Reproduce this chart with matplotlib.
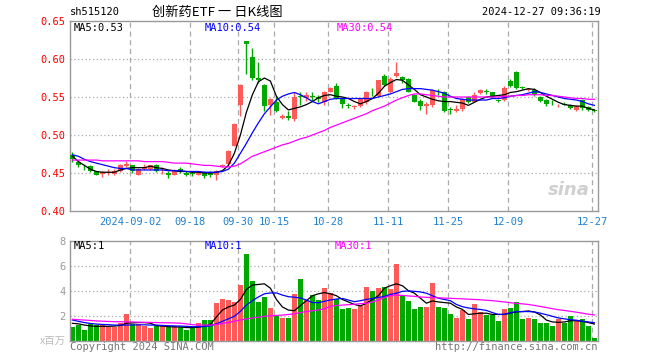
import matplotlib
matplotlib.use("Agg")
import matplotlib.pyplot as plt

# ---- data (515120, daily, 2024-08-19 .. 2024-12-27) ----
opens = [0.474, 0.465, 0.457, 0.459, 0.452, 0.449, 0.450, 0.449, 0.452, 0.459,
         0.460, 0.448, 0.455, 0.455, 0.461, 0.452, 0.450, 0.448, 0.455, 0.450,
         0.450, 0.448, 0.451, 0.450, 0.447, 0.459, 0.462, 0.486, 0.540, 0.624,
         0.603, 0.575, 0.566, 0.540, 0.544, 0.523, 0.525, 0.521, 0.551, 0.549,
         0.551, 0.550, 0.543, 0.557, 0.565, 0.548, 0.539, 0.537, 0.538, 0.543,
         0.557, 0.551, 0.578, 0.557, 0.577, 0.576, 0.574, 0.553, 0.545, 0.538,
         0.539, 0.557, 0.557, 0.534, 0.532, 0.534, 0.550, 0.544, 0.555, 0.558,
         0.556, 0.546, 0.546, 0.571, 0.583, 0.563, 0.559, 0.559, 0.550, 0.546,
         0.544, 0.539, 0.541, 0.540, 0.533, 0.546, 0.537, 0.533]
closes = [0.469, 0.460, 0.456, 0.452, 0.448, 0.451, 0.451, 0.452, 0.461, 0.462,
          0.452, 0.455, 0.458, 0.460, 0.452, 0.453, 0.448, 0.452, 0.451, 0.448,
          0.449, 0.450, 0.446, 0.447, 0.453, 0.460, 0.479, 0.514, 0.566, 0.620,
          0.575, 0.572, 0.538, 0.548, 0.532, 0.525, 0.523, 0.550, 0.550, 0.552,
          0.550, 0.547, 0.557, 0.562, 0.548, 0.541, 0.538, 0.538, 0.548, 0.557,
          0.556, 0.572, 0.566, 0.574, 0.582, 0.572, 0.557, 0.544, 0.538, 0.541,
          0.559, 0.556, 0.532, 0.533, 0.534, 0.548, 0.543, 0.553, 0.559, 0.557,
          0.550, 0.545, 0.562, 0.565, 0.562, 0.562, 0.561, 0.553, 0.545, 0.541,
          0.543, 0.540, 0.540, 0.535, 0.538, 0.536, 0.533, 0.532]
highs = [0.477, 0.467, 0.460, 0.461, 0.453, 0.452, 0.455, 0.455, 0.462, 0.466,
         0.461, 0.457, 0.462, 0.461, 0.462, 0.458, 0.452, 0.455, 0.458, 0.452,
         0.453, 0.453, 0.452, 0.452, 0.454, 0.462, 0.480, 0.516, 0.567, 0.624,
         0.614, 0.596, 0.567, 0.549, 0.551, 0.527, 0.531, 0.557, 0.556, 0.557,
         0.557, 0.552, 0.558, 0.563, 0.568, 0.549, 0.542, 0.540, 0.549, 0.558,
         0.562, 0.573, 0.580, 0.576, 0.596, 0.578, 0.575, 0.554, 0.548, 0.543,
         0.560, 0.560, 0.558, 0.537, 0.539, 0.549, 0.551, 0.557, 0.560, 0.560,
         0.557, 0.548, 0.564, 0.574, 0.584, 0.565, 0.562, 0.562, 0.551, 0.547,
         0.546, 0.541, 0.543, 0.541, 0.539, 0.547, 0.538, 0.534]
lows = [0.465, 0.458, 0.454, 0.451, 0.447, 0.445, 0.447, 0.448, 0.451, 0.458,
        0.450, 0.447, 0.454, 0.454, 0.451, 0.449, 0.443, 0.447, 0.450, 0.446,
        0.446, 0.447, 0.444, 0.445, 0.441, 0.458, 0.461, 0.485, 0.525, 0.580,
        0.573, 0.569, 0.531, 0.526, 0.530, 0.521, 0.520, 0.519, 0.540, 0.545,
        0.545, 0.544, 0.539, 0.556, 0.547, 0.536, 0.535, 0.534, 0.537, 0.541,
        0.551, 0.550, 0.565, 0.555, 0.576, 0.568, 0.556, 0.543, 0.533, 0.528,
        0.537, 0.552, 0.530, 0.527, 0.530, 0.532, 0.542, 0.543, 0.554, 0.554,
        0.549, 0.543, 0.545, 0.563, 0.561, 0.560, 0.558, 0.551, 0.543, 0.538,
        0.540, 0.537, 0.539, 0.534, 0.532, 0.533, 0.531, 0.530]

ma5 = [0.472, 0.465, 0.460, 0.455, 0.452, 0.451, 0.451, 0.451, 0.454, 0.456,
       0.457, 0.457, 0.457, 0.459, 0.457, 0.456, 0.454, 0.453, 0.452, 0.452,
       0.451, 0.451, 0.450, 0.450, 0.451, 0.453, 0.460, 0.476, 0.500, 0.530,
       0.553, 0.570, 0.575, 0.571, 0.551, 0.540, 0.533, 0.535, 0.537, 0.540,
       0.544, 0.549, 0.552, 0.553, 0.551, 0.550, 0.548, 0.544, 0.541, 0.544,
       0.548, 0.555, 0.564, 0.569, 0.573, 0.572, 0.566, 0.560, 0.553, 0.550,
       0.547, 0.545, 0.544, 0.544, 0.543, 0.542, 0.539, 0.543, 0.547, 0.550,
       0.551, 0.552, 0.553, 0.556, 0.557, 0.559, 0.561, 0.560, 0.556, 0.551,
       0.547, 0.543, 0.540, 0.539, 0.538, 0.538, 0.535, 0.533]
ma10 = [0.474, 0.472, 0.468, 0.465, 0.463, 0.461, 0.459, 0.457, 0.456, 0.456,
        0.454, 0.454, 0.454, 0.454, 0.454, 0.454, 0.453, 0.453, 0.453, 0.452,
        0.452, 0.452, 0.451, 0.451, 0.451, 0.452, 0.455, 0.463, 0.476, 0.489,
        0.503, 0.516, 0.528, 0.537, 0.546, 0.551, 0.554, 0.556, 0.553, 0.549,
        0.544, 0.541, 0.544, 0.547, 0.548, 0.548, 0.548, 0.548, 0.548, 0.548,
        0.548, 0.550, 0.552, 0.554, 0.557, 0.560, 0.561, 0.561, 0.561, 0.560,
        0.559, 0.557, 0.555, 0.551, 0.548, 0.547, 0.546, 0.546, 0.546, 0.546,
        0.548, 0.548, 0.549, 0.551, 0.552, 0.553, 0.555, 0.557, 0.556, 0.554,
        0.552, 0.550, 0.548, 0.547, 0.546, 0.544, 0.541, 0.539]
ma30 = [0.467, 0.467, 0.467, 0.467, 0.467, 0.466, 0.466, 0.466, 0.466, 0.466,
        0.466, 0.466, 0.465, 0.465, 0.465, 0.465, 0.464, 0.463, 0.463, 0.463,
        0.462, 0.461, 0.460, 0.460, 0.459, 0.458, 0.458, 0.459, 0.462, 0.467,
        0.472, 0.475, 0.478, 0.481, 0.484, 0.487, 0.489, 0.492, 0.495, 0.497,
        0.500, 0.503, 0.506, 0.510, 0.513, 0.516, 0.519, 0.522, 0.525, 0.528,
        0.532, 0.535, 0.538, 0.542, 0.546, 0.549, 0.552, 0.554, 0.554, 0.553,
        0.552, 0.551, 0.550, 0.550, 0.550, 0.550, 0.550, 0.550, 0.550, 0.550,
        0.550, 0.550, 0.551, 0.551, 0.552, 0.552, 0.553, 0.553, 0.553, 0.552,
        0.552, 0.551, 0.550, 0.549, 0.548, 0.548, 0.547, 0.547]

# volume, millions of shares
vols = [1.12, 1.25, 0.86, 1.30, 1.25, 1.25, 1.12, 1.12, 1.44, 2.13,
        1.30, 1.30, 1.17, 0.99, 1.17, 1.17, 1.17, 1.17, 1.12, 0.86,
        1.12, 1.39, 1.66, 1.66, 3.04, 3.34, 3.26, 3.10, 4.46, 6.93,
        4.78, 3.12, 3.47, 2.64, 2.06, 1.84, 1.84, 3.74, 4.94, 3.26,
        3.66, 3.26, 4.24, 3.79, 3.32, 2.54, 2.59, 2.51, 2.78, 4.32,
        3.98, 4.19, 4.32, 4.14, 6.14, 3.58, 3.18, 2.54, 2.70, 2.70,
        4.64, 2.70, 2.62, 2.14, 1.84, 2.46, 1.74, 2.94, 2.33, 2.06,
        2.06, 1.58, 2.54, 2.64, 3.12, 1.74, 1.79, 1.74, 1.44, 1.44,
        1.17, 1.74, 1.44, 2.00, 1.58, 1.74, 1.17, 0.23]
vma5 = [1.39, 1.35, 1.25, 1.18, 1.15, 1.15, 1.15, 1.17, 1.22, 1.40,
        1.42, 1.45, 1.45, 1.40, 1.20, 1.17, 1.12, 1.10, 1.10, 1.05,
        1.05, 1.08, 1.15, 1.30, 1.90, 2.45, 2.70, 2.85, 3.30, 4.10,
        4.45, 4.50, 4.55, 4.20, 3.30, 2.70, 2.45, 2.40, 2.80, 3.20,
        3.60, 3.75, 3.85, 3.75, 3.60, 3.30, 3.10, 2.90, 2.78, 3.00,
        3.30, 3.60, 4.20, 4.40, 4.55, 4.40, 4.00, 3.80, 3.40, 3.00,
        3.18, 3.10, 3.05, 3.00, 2.70, 2.50, 2.10, 2.15, 2.20, 2.20,
        2.10, 2.10, 2.10, 2.20, 2.30, 2.33, 2.38, 2.30, 2.06, 1.65,
        1.50, 1.47, 1.50, 1.60, 1.60, 1.55, 1.45, 1.33]
vma10 = [1.66, 1.55, 1.45, 1.38, 1.33, 1.30, 1.28, 1.25, 1.25, 1.25,
         1.25, 1.27, 1.27, 1.25, 1.25, 1.22, 1.20, 1.18, 1.17, 1.15,
         1.12, 1.12, 1.15, 1.18, 1.35, 1.55, 1.75, 1.95, 2.35, 2.85,
         3.20, 3.50, 3.75, 3.82, 3.82, 3.65, 3.52, 3.48, 3.42, 3.25,
         3.05, 3.04, 3.15, 3.26, 3.33, 3.38, 3.25, 3.12, 3.20, 3.30,
         3.38, 3.45, 3.55, 3.70, 3.80, 3.95, 3.98, 3.95, 3.90, 3.80,
         3.60, 3.40, 3.30, 3.20, 2.90, 2.72, 2.62, 2.55, 2.50, 2.42,
         2.25, 2.10, 2.12, 2.25, 2.33, 2.33, 2.33, 2.30, 2.20, 2.08,
         1.95, 1.82, 1.75, 1.68, 1.64, 1.55, 1.50, 1.44]
vma30 = [1.71, 1.68, 1.65, 1.62, 1.58, 1.56, 1.54, 1.52, 1.52, 1.50,
         1.50, 1.48, 1.47, 1.46, 1.45, 1.44, 1.43, 1.42, 1.40, 1.35,
         1.28, 1.25, 1.25, 1.25, 1.30, 1.38, 1.46, 1.56, 1.66, 1.74,
         1.82, 1.88, 1.95, 2.00, 2.02, 2.05, 2.10, 2.15, 2.25, 2.33,
         2.40, 2.46, 2.55, 2.75, 2.82, 2.85, 2.88, 2.92, 2.96, 3.00,
         3.10, 3.25, 3.45, 3.60, 3.66, 3.62, 3.58, 3.55, 3.50, 3.47,
         3.45, 3.43, 3.41, 3.39, 3.37, 3.35, 3.32, 3.30, 3.27, 3.24,
         3.20, 3.15, 3.10, 3.04, 2.98, 2.95, 2.90, 2.82, 2.74, 2.65,
         2.56, 2.48, 2.42, 2.35, 2.28, 2.20, 2.12, 2.06]

tick_idx = [10, 20, 28, 34, 43, 53, 63, 73, 87]
tick_labels = ["2024-09-02", "09-18", "09-30", "10-15", "10-28",
               "11-11", "11-25", "12-09", "12-27"]
price_ticks = [0.40, 0.45, 0.50, 0.55, 0.60, 0.65]
vol_ticks = [2, 4, 6, 8]

RED = "#ff5a5a"
GREEN = "#00a800"
GRID = "#aaaaaa"
FRAME = "#999999"
MONO = "DejaVu Sans Mono"
CJK = ["Noto Sans CJK SC", "DejaVu Sans"]

n = len(closes)
xs = list(range(n))
colors = [RED if c >= o else GREEN for o, c in zip(opens, closes)]

fig = plt.figure(figsize=(6.6, 3.6), dpi=100)
ax = fig.add_axes([70 / 660, 1 - 211 / 360, 528 / 660, 190 / 360])
axv = fig.add_axes([70 / 660, 1 - 340.7 / 360, 528 / 660, 100 / 360])

for a in (ax, axv):
    for s in a.spines.values():
        s.set_color(FRAME)
        s.set_linewidth(1)
    a.set_xlim(-0.4, n - 0.4)
    for t in tick_idx:
        a.axvline(t - 0.35, color=GRID, lw=0.9, ls=(0, (4, 3)), zorder=0)

# price panel
for p in price_ticks[1:-1]:
    ax.axhline(p, color=GRID, lw=0.9, ls=(0, (1, 2)), zorder=0)
ax.vlines(xs, lows, highs, colors=colors, lw=1, zorder=2)
bottoms = [min(o, c) for o, c in zip(opens, closes)]
heights = [max(abs(c - o), 0.0008) for o, c in zip(opens, closes)]
ax.bar(xs, heights, bottom=bottoms, width=0.8, color=colors, linewidth=0, zorder=3)
ax.plot(xs, ma5, color="black", lw=0.9, zorder=4)
ax.plot(xs, ma10, color="blue", lw=0.9, zorder=4)
ax.plot(xs, ma30, color="magenta", lw=0.9, zorder=4)
ax.set_ylim(0.40, 0.65)
ax.set_yticks(price_ticks)
ax.set_yticklabels([f"{p:.2f}" for p in price_ticks], family=MONO, fontsize=7.5, color="red")
ax.set_xticks([t - 0.35 for t in tick_idx])
ax.set_xticklabels(tick_labels, family=MONO, fontsize=7.5, color="#1f80d0")
ax.tick_params(axis="both", length=0, pad=3)
ax.tick_params(axis="x", pad=4)

# volume panel
for v in vol_ticks[:-1]:
    axv.axhline(v, color=GRID, lw=0.9, ls=(0, (1, 2)), zorder=0)
axv.bar(xs, vols, width=0.8, color=colors, linewidth=0, zorder=2)
axv.plot(xs, vma5, color="black", lw=0.9, zorder=4)
axv.plot(xs, vma10, color="blue", lw=0.9, zorder=4)
axv.plot(xs, vma30, color="magenta", lw=0.9, zorder=4)
axv.set_ylim(0, 8)
axv.set_yticks(vol_ticks)
axv.set_yticklabels([str(v) for v in vol_ticks], family=MONO, fontsize=7.5, color="#999999")
axv.set_xticks([])
axv.tick_params(axis="both", length=0, pad=3)

# texts
fig.text(70 / 660, 1 - 12 / 360, "sh515120", family=MONO, fontsize=7.5, va="center")
fig.text(152 / 660, 1 - 12 / 360, "创新药ETF 一 日K线图", family=CJK, fontsize=9.5, va="center")
fig.text(601 / 660, 1 - 12 / 360, "2024-12-27 09:36:19", family=MONO, fontsize=7.5,
         va="center", ha="right")
fig.text(74 / 660, 1 - 28 / 360, "MA5:0.53", family=MONO, fontsize=7.5, va="center", color="black")
fig.text(205 / 660, 1 - 28 / 360, "MA10:0.54", family=MONO, fontsize=7.5, va="center", color="blue")
fig.text(337 / 660, 1 - 28 / 360, "MA30:0.54", family=MONO, fontsize=7.5, va="center", color="magenta")
fig.text(74 / 660, 1 - 246 / 360, "MA5:1", family=MONO, fontsize=7.5, va="center", color="black")
fig.text(205 / 660, 1 - 246 / 360, "MA10:1", family=MONO, fontsize=7.5, va="center", color="blue")
fig.text(335 / 660, 1 - 246 / 360, "MA30:1", family=MONO, fontsize=7.5, va="center", color="magenta")
fig.text(66 / 660, 1 - 341 / 360, "x百万", family=CJK, fontsize=7.5, va="center", ha="right",
         color="#bbbbbb")
fig.text(70 / 660, 1 - 347 / 360, "Copyright 2024 SINA.COM", family=MONO, fontsize=7.5,
         va="center", color="#777777")
fig.text(598 / 660, 1 - 347 / 360, "http://finance.sina.com.cn", family=MONO, fontsize=7.5,
         va="center", ha="right", color="#777777")
fig.text(590 / 660, 1 - 190 / 360, "sina", fontsize=13, fontweight="bold", style="italic",
         va="center", ha="right", color="#d0d0d0")

fig.savefig("out.png", dpi=100)
